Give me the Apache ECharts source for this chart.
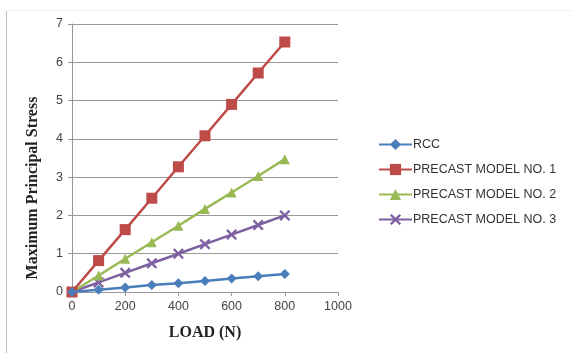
<!DOCTYPE html>
<html><head><meta charset="utf-8">
<script src="https://cdn.jsdelivr.net/npm/echarts@6/dist/echarts.min.js"></script>
<style>html,body{margin:0;padding:0;background:#fff}#c{width:571px;height:353px}</style>
</head><body><div id="c"></div>
<script>
const loads = [0, 100, 200, 300, 400, 500, 600, 700, 800];
const rcc = [0, 0.06, 0.12, 0.18, 0.23, 0.29, 0.35, 0.41, 0.47];
const precast1 = [0, 0.82, 1.63, 2.45, 3.27, 4.08, 4.90, 5.72, 6.53];
const precast2 = [0, 0.43, 0.87, 1.30, 1.73, 2.17, 2.60, 3.03, 3.47];
const precast3 = [0, 0.25, 0.50, 0.75, 1.00, 1.25, 1.50, 1.75, 2.00];
const seriesNames = ['RCC', 'PRECAST MODEL NO. 1', 'PRECAST MODEL NO. 2', 'PRECAST MODEL NO. 3'];
const colors = ['#4a7ebb', '#be4b48', '#98b954', '#7d60a0'];
const xSymbol = 'path://M0,1.5 L1.5,0 L5,3.5 L8.5,0 L10,1.5 L6.5,5 L10,8.5 L8.5,10 L5,6.5 L1.5,10 L0,8.5 L3.5,5 Z';
const symbols = ['diamond', 'rect', 'triangle', xSymbol];
const sizes = [10, 11, 10, 11];
const dataSets = [rcc, precast1, precast2, precast3];

const chart = echarts.init(document.getElementById('c'));
chart.setOption({
  animation: false,
  graphic: [
    {type: 'line', shape: {x1: 6.5, y1: 10, x2: 6.5, y2: 353}, style: {stroke: '#bbb', lineWidth: 1}},
    {type: 'line', shape: {x1: 6, y1: 10.5, x2: 571, y2: 10.5}, style: {stroke: '#eee', lineWidth: 1}},
    {type: 'text', x: 33, y: 188, rotation: Math.PI / 2,
     style: {text: 'Maximum Principal Stress', fontFamily: 'Liberation Serif', fontWeight: 'bold', fontSize: 16,
             fill: '#222', align: 'center', verticalAlign: 'middle'}}
  ],
  grid: {left: 72, right: 233, top: 24, bottom: 61},
  legend: {
    orient: 'vertical', left: 373, top: 133, itemGap: 12, itemWidth: 33, itemHeight: 14,
    textStyle: {fontFamily: 'Liberation Sans', fontSize: 12.5, color: '#333', padding: [0, 0, 0, -4]},
    data: seriesNames
  },
  xAxis: {
    type: 'value', min: 0, max: 1000, interval: 200,
    name: 'LOAD (N)', nameLocation: 'middle', nameGap: 33,
    nameTextStyle: {fontFamily: 'Liberation Serif', fontWeight: 'bold', fontSize: 16, color: '#222'},
    axisLine: {lineStyle: {color: '#999'}},
    axisTick: {show: true, length: 4, lineStyle: {color: '#999'}},
    axisLabel: {fontFamily: 'Liberation Sans', fontSize: 12.5, color: '#444', margin: 8,
                formatter: v => String(v)},
    splitLine: {show: false}
  },
  yAxis: {
    type: 'value', min: 0, max: 7, interval: 1,
    axisLine: {show: true, lineStyle: {color: '#999'}},
    axisTick: {show: true, length: 4, lineStyle: {color: '#999'}},
    axisLabel: {fontFamily: 'Liberation Sans', fontSize: 12.5, color: '#444', margin: 9},
    splitLine: {lineStyle: {color: '#999', width: 1}}
  },
  series: dataSets.map((d, i) => ({
    name: seriesNames[i], type: 'line',
    data: loads.map((x, j) => [x, d[j]]),
    symbol: symbols[i], symbolSize: sizes[i], showSymbol: true,
    lineStyle: {color: colors[i], width: 2.5},
    itemStyle: {color: colors[i]},
    z: 10 - i
  }))
});
</script></body></html>
